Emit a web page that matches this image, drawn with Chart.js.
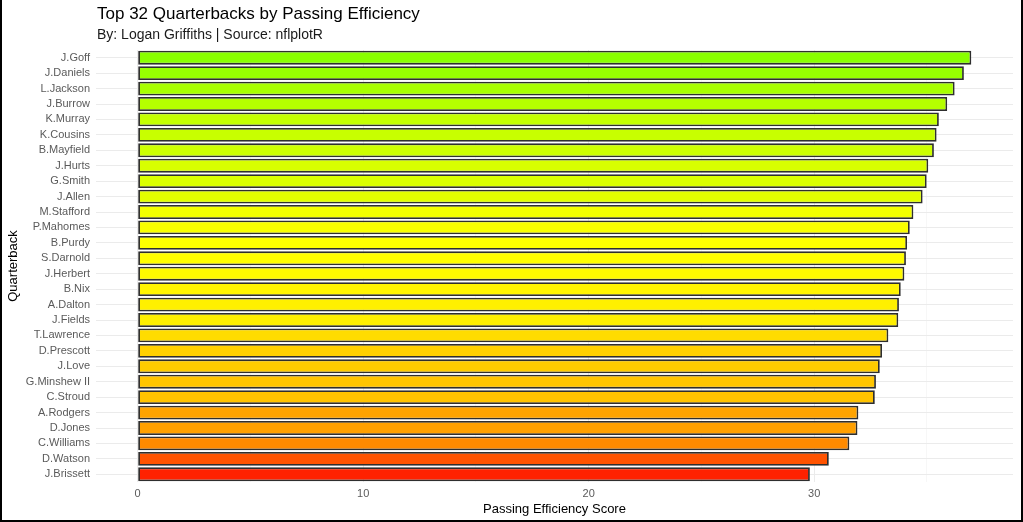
<!DOCTYPE html>
<html>
<head>
<meta charset="utf-8">
<script src="https://cdn.jsdelivr.net/npm/chart.js@4.4.1/dist/chart.umd.min.js"></script>
<style>
  html, body { margin: 0; padding: 0; background: #fff; }
  #wrap { position: relative; width: 1023px; height: 522px; box-sizing: border-box;
          border-left: 2px solid #000; border-right: 2px solid #000; border-bottom: 2px solid #000;
          font-family: "Liberation Sans", Arial, sans-serif; }
  #titulo { position: absolute; left: 95px; top: 4px; font-size: 17px; color: #000; }
  #sub { position: absolute; left: 95px; top: 26px; font-size: 14px; color: #1a1a1a; }
  #grafico { position: absolute; left: 0; top: 0; }
</style>
</head>
<body>
<div id="wrap">
  <canvas id="grafico" width="1019" height="520"></canvas>
  <div id="titulo">Top 32 Quarterbacks by Passing Efficiency</div>
  <div id="sub">By: Logan Griffiths | Source: nflplotR</div>
</div>
<script>
// dados
const quarterbacks = [
  'J.Goff', 'J.Daniels', 'L.Jackson', 'J.Burrow', 'K.Murray', 'K.Cousins', 'B.Mayfield',
  'J.Hurts', 'G.Smith', 'J.Allen', 'M.Stafford', 'P.Mahomes', 'B.Purdy', 'S.Darnold',
  'J.Herbert', 'B.Nix', 'A.Dalton', 'J.Fields', 'T.Lawrence', 'D.Prescott', 'J.Love',
  'G.Minshew II', 'C.Stroud', 'A.Rodgers', 'D.Jones', 'C.Williams', 'D.Watson', 'J.Brissett',
];

const scores = [
  36.97, 36.64, 36.23, 35.90, 35.53, 35.43, 35.31,
  35.06, 34.99, 34.81, 34.40, 34.24, 34.12, 34.07,
  34.00, 33.84, 33.76, 33.73, 33.29, 33.01, 32.91,
  32.74, 32.69, 31.96, 31.92, 31.56, 30.65, 29.81,
];

const xTicks = [0, 10, 20, 30];
const xMinorTicks = [5, 15, 25, 35];

// gradiente vermelho -> laranja -> amarelo -> verde
const paradas = [
  [29.8, [255, 32, 0]],
  [32.0, [255, 165, 0]],
  [34.1, [255, 255, 0]],
  [37.0, [136, 255, 0]],
];

function corDoValor(v) {
  if (v <= paradas[0][0]) return 'rgb(' + paradas[0][1].join(',') + ')';
  for (let i = 1; i < paradas.length; i++) {
    if (v <= paradas[i][0]) {
      const a = paradas[i - 1], b = paradas[i];
      const t = (v - a[0]) / (b[0] - a[0]);
      const c = a[1].map((x, k) => Math.round(x + (b[1][k] - x) * t));
      return 'rgb(' + c.join(',') + ')';
    }
  }
  return 'rgb(' + paradas[paradas.length - 1][1].join(',') + ')';
}

const maxScore = Math.max(...scores);
const expandir = maxScore * 0.05;

const config = {
  type: 'bar',
  data: {
    labels: quarterbacks,
    datasets: [{
      data: scores,
      backgroundColor: scores.map(corDoValor),
      borderColor: '#2e2e2e',
      borderWidth: 1.8,
      borderSkipped: false,
      barPercentage: 0.9,
      categoryPercentage: 1.0,
    }]
  },
  options: {
    indexAxis: 'y',
    responsive: false,
    animation: false,
    layout: { padding: { top: 50, right: 8, bottom: 2, left: 0 } },
    plugins: { legend: { display: false }, tooltip: { enabled: false } },
    scales: {
      x: {
        type: 'linear',
        min: -expandir,
        max: maxScore + expandir,
        border: { display: false },
        // grade principal (0,10,20,30) e secundaria (5,15,25,35)
        afterBuildTicks: (s) => {
          s.ticks = xTicks.concat(xMinorTicks).sort((a, b) => a - b).map(v => ({ value: v }));
        },
        afterFit: (s) => { s.height = 36; },
        grid: {
          drawTicks: false,
          color: (ctx) => (ctx.tick && xTicks.includes(ctx.tick.value)) ? '#EBEBEB' : '#F4F4F4',
          lineWidth: (ctx) => (ctx.tick && xTicks.includes(ctx.tick.value)) ? 1 : 0.7,
        },
        ticks: {
          padding: 5,
          color: '#5a5a5a',
          font: { family: 'Liberation Sans', size: 11 },
          callback: (v) => xTicks.includes(v) ? String(v) : '',
          maxRotation: 0,
          autoSkip: false,
        },
        title: {
          display: true,
          text: 'Passing Efficiency Score',
          color: '#000',
          font: { family: 'Liberation Sans', size: 13 },
          padding: { top: 0, bottom: 1 },
        },
      },
      y: {
        border: { display: false },
        afterFit: (s) => { s.width = 94; },
        grid: { offset: false, drawTicks: false, color: '#EBEBEB', lineWidth: 1 },
        ticks: {
          padding: 6,
          color: '#5a5a5a',
          font: { family: 'Liberation Sans', size: 11 },
          autoSkip: false,
        },
        title: {
          display: true,
          text: 'Quarterback',
          color: '#000',
          font: { family: 'Liberation Sans', size: 13 },
          padding: { top: 4, bottom: 4 },
        },
      },
    },
  },
};

const grafico = new Chart(document.getElementById('grafico'), config);
</script>
</body>
</html>
